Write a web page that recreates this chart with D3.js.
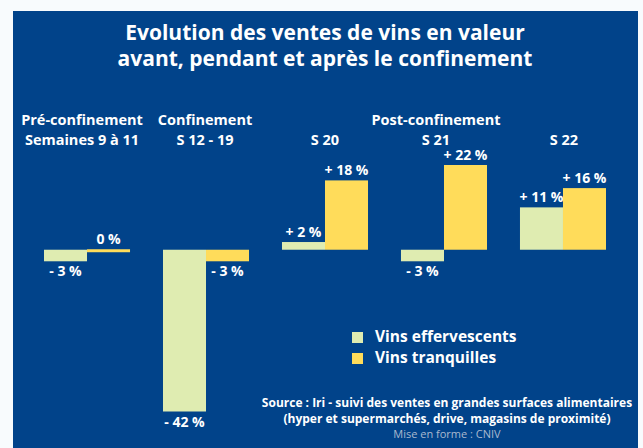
<!DOCTYPE html>
<html>
<head>
<meta charset="utf-8">
<script src="https://cdn.jsdelivr.net/npm/d3@7"></script>
<style>
body{margin:0;background:#f8fbfd;}
text{font-family:"Open Sans",sans-serif;fill:#fff;}
</style>
</head>
<body>
<div id="chart"></div>
<script>
var periods=['pre','conf','s20','s21','s22'];
var effervescents=[-3,-42,2,-3,11];
var tranquilles=[0,-3,18,22,16];
var seriesNames=['Vins effervescents','Vins tranquilles'];
var valueLabels=[['- 3 %','- 42 %','+ 2 %','- 3 %','+ 11 %'],['0 %','- 3 %','+ 18 %','+ 22 %','+ 16 %']];
var headersTop=['Pré-confinement','Confinement','','Post-confinement',''];
var headersBottom=['Semaines 9 à 11','S 12 - 19','S 20','S 21','S 22'];
var colors=['#dfecb1','#ffdc5a'];

var W=643,H=448;
var svg=d3.select('#chart').append('svg')
    .attr('width',W)
    .attr('height',H);

svg.append('rect')
    .attr('x',13).attr('y',11)
    .attr('width',625).attr('height',H-11)
    .attr('fill','#01438a');

var title=svg.append('text')
    .attr('text-anchor','middle')
    .attr('font-size',21)
    .attr('font-weight','bold');
title.append('tspan').attr('x',325).attr('y',40).text('Evolution des ventes de vins en valeur');
title.append('tspan').attr('x',325).attr('y',66).text('avant, pendant et après le confinement');

var x=d3.scaleBand()
    .domain(periods)
    .range([44,606])
    .paddingInner(0.277);
var xs=d3.scaleBand()
    .domain([0,1])
    .range([0,x.bandwidth()]);
var y=d3.scaleLinear()
    .domain([-42,22])
    .range([411.5,165]);

// headers
var headerX=[82,205,325,436,564];
svg.selectAll('.h1')
    .data(headersTop)
    .enter().append('text')
    .attr('class','h1')
    .attr('text-anchor','middle')
    .attr('font-size',14.5)
    .attr('font-weight','bold')
    .attr('x',function(d,i){return headerX[i];})
    .attr('y',125)
    .text(function(d){return d;});
svg.selectAll('.h2')
    .data(headersBottom)
    .enter().append('text')
    .attr('class','h2')
    .attr('text-anchor','middle')
    .attr('font-size',14.5)
    .attr('font-weight','bold')
    .attr('x',function(d,i){return headerX[i];})
    .attr('y',145)
    .text(function(d){return d;});

var bars=[];
periods.forEach(function(p,i){
    bars.push({p:p,s:0,v:effervescents[i],label:valueLabels[0][i]});
    bars.push({p:p,s:1,v:tranquilles[i],label:valueLabels[1][i]});
});

svg.selectAll('.bar')
    .data(bars)
    .enter().append('rect')
    .attr('class','bar')
    .attr('x',function(d){return x(d.p)+xs(d.s);})
    .attr('y',function(d){return d.v===0?y(0)-0.5:Math.min(y(0),y(d.v));})
    .attr('width',xs.bandwidth())
    .attr('height',function(d){return d.v===0?3:Math.abs(y(d.v)-y(0));})
    .attr('fill',function(d){return colors[d.s];});

svg.selectAll('.number')
    .data(bars)
    .enter().append('text')
    .attr('class','number')
    .attr('text-anchor','middle')
    .attr('font-size',14)
    .attr('font-weight','bold')
    .attr('x',function(d){return x(d.p)+xs(d.s)+xs.bandwidth()/2;})
    .attr('y',function(d){
        return d.v>=0?y(d.v)-(d.v===0?6:5):y(d.v)+15;
    })
    .text(function(d){return d.label;});

// legend
var legend=svg.selectAll('.legend')
    .data(seriesNames)
    .enter().append('g')
    .attr('class','legend')
    .attr('transform',function(d,i){return 'translate(352,'+(332+i*21)+')';});
legend.append('rect')
    .attr('width',11).attr('height',11)
    .attr('fill',function(d,i){return colors[i];});
legend.append('text')
    .attr('x',23).attr('y',10)
    .attr('font-size',15.5)
    .attr('font-weight','bold')
    .text(function(d){return d;});

var src=svg.append('text')
    .attr('text-anchor','middle')
    .attr('font-size',12)
    .attr('font-weight','bold');
src.append('tspan').attr('x',447).attr('y',407).text('Source : Iri - suivi des ventes en grandes surfaces alimentaires');
src.append('tspan').attr('x',447).attr('y',423).text('(hyper et supermarchés, drive, magasins de proximité)');
svg.append('text')
    .attr('text-anchor','middle')
    .attr('font-size',11)
    .attr('x',447).attr('y',438)
    .style('fill','#a9b9cf')
    .text('Mise en forme : CNIV');
</script>
</body>
</html>
